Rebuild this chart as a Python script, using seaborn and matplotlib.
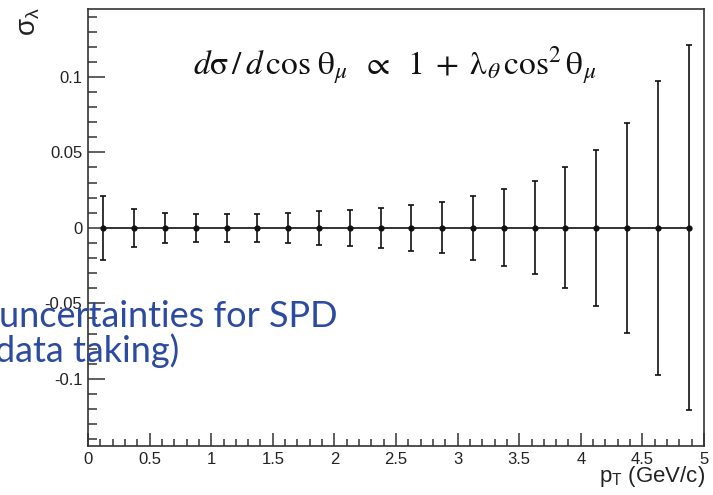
import matplotlib
matplotlib.use("Agg")
import matplotlib.pyplot as plt
import seaborn as sns
import numpy as np
import pandas as pd
from matplotlib.ticker import MultipleLocator, FixedLocator, FuncFormatter

# ---- data ----
pt_centers = [0.125, 0.375, 0.625, 0.875, 1.125, 1.375, 1.625, 1.875, 2.125, 2.375,
              2.625, 2.875, 3.125, 3.375, 3.625, 3.875, 4.125, 4.375, 4.625, 4.875]
sigma_values = [0.0] * 20
sigma_errors = [0.021, 0.0128, 0.0100, 0.0093, 0.0093, 0.0093, 0.0100, 0.0112, 0.0120, 0.0130,
                0.0151, 0.0169, 0.0212, 0.0255, 0.0308, 0.0400, 0.0515, 0.0697, 0.0972, 0.1209]
x_ticks = [0, 0.5, 1, 1.5, 2, 2.5, 3, 3.5, 4, 4.5, 5]
y_ticks = [-0.1, -0.05, 0, 0.05, 0.1]
title_formula = (r"$d\mathrm{\sigma}\,/\,d\,\mathrm{cos}\;\mathrm{\theta}_{\mu}\;\;\propto\;\;1\;+\;"
                 r"\mathrm{\lambda}_{\theta}\,\mathrm{cos}^{2}\,\mathrm{\theta}_{\mu}$")
overlay_lines = ["uncertainties for SPD", "data taking)"]

df = pd.DataFrame({"pt": pt_centers, "sigma": sigma_values, "err": sigma_errors})

sns.set_theme(style="ticks")
plt.rcParams["font.family"] = ["Liberation Sans", "DejaVu Sans"]
plt.rcParams["mathtext.fontset"] = "custom"
plt.rcParams["mathtext.rm"] = "Liberation Sans"
plt.rcParams["mathtext.it"] = "Liberation Sans:italic"

W, H = 713, 495
fig = plt.figure(figsize=(W / 100, H / 100), dpi=100)
ax = fig.add_axes([88 / W, 1 - 446 / H, (704 - 88) / W, (446 - 9) / H])

axcol = "#333333"
ax.errorbar(df["pt"], df["sigma"], yerr=df["err"], fmt="none", ecolor="#111111",
            elinewidth=1.2, capsize=2.2, capthick=1.2, zorder=2)
sns.lineplot(data=df, x="pt", y="sigma", ax=ax, color="#111111", linewidth=1.2,
             marker="o", markersize=4.5, markeredgewidth=0, zorder=3)

ax.set_xlim(0, 5)
ax.set_ylim(-0.1445, 0.145)
ax.xaxis.set_major_locator(FixedLocator(x_ticks))
ax.xaxis.set_minor_locator(MultipleLocator(0.1))
ax.yaxis.set_major_locator(FixedLocator(y_ticks))
ax.yaxis.set_minor_locator(MultipleLocator(0.01))

def fmt(v, pos):
    return "%g" % round(v, 4)
ax.xaxis.set_major_formatter(FuncFormatter(fmt))
ax.yaxis.set_major_formatter(FuncFormatter(fmt))

for sp in ax.spines.values():
    sp.set_color(axcol)
    sp.set_linewidth(1.2)
ax.tick_params(axis="y", which="major", direction="in", length=12.2, width=1.1,
               color=axcol, labelsize=12, pad=4, labelcolor="#222222")
ax.tick_params(axis="y", which="minor", direction="in", length=6.3, width=1.1, color=axcol)
ax.tick_params(axis="x", which="major", direction="in", length=9.4, width=1.1,
               color=axcol, labelsize=12, pad=4, labelcolor="#222222")
ax.tick_params(axis="x", which="minor", direction="in", length=5, width=1.1, color=axcol)
ax.set_xlabel("")
ax.set_ylabel("")

# axis titles (ROOT style, at the end of the axes)
fig.text(705 / W, 1 - 482 / H, r"p$_{\mathrm{T}}$ (GeV/c)", ha="right", va="baseline",
         fontsize=16, color="#222222")
fig.text(29 / W, 1 - 7 / H, r"σ$_{\mathrm{λ}}$", ha="center", va="top", rotation=90,
         fontsize=20, color="#222222")

# formula
fig.text(193 / W, 1 - 75 / H, title_formula, ha="left", va="baseline",
         fontsize=24, color="#111111", math_fontfamily="stix")

# overlay text (clipped at the left edge)
blue = "#2b4aa0"
fig.text(-1 / W, 1 - 327 / H, overlay_lines[0], ha="left", va="baseline",
         fontsize=26, color=blue, family=["Lato", "DejaVu Sans"])
fig.text(-5 / W, 1 - 362 / H, overlay_lines[1], ha="left", va="baseline",
         fontsize=26, color=blue, family=["Lato", "DejaVu Sans"])

fig.savefig("out.png", dpi=100)
